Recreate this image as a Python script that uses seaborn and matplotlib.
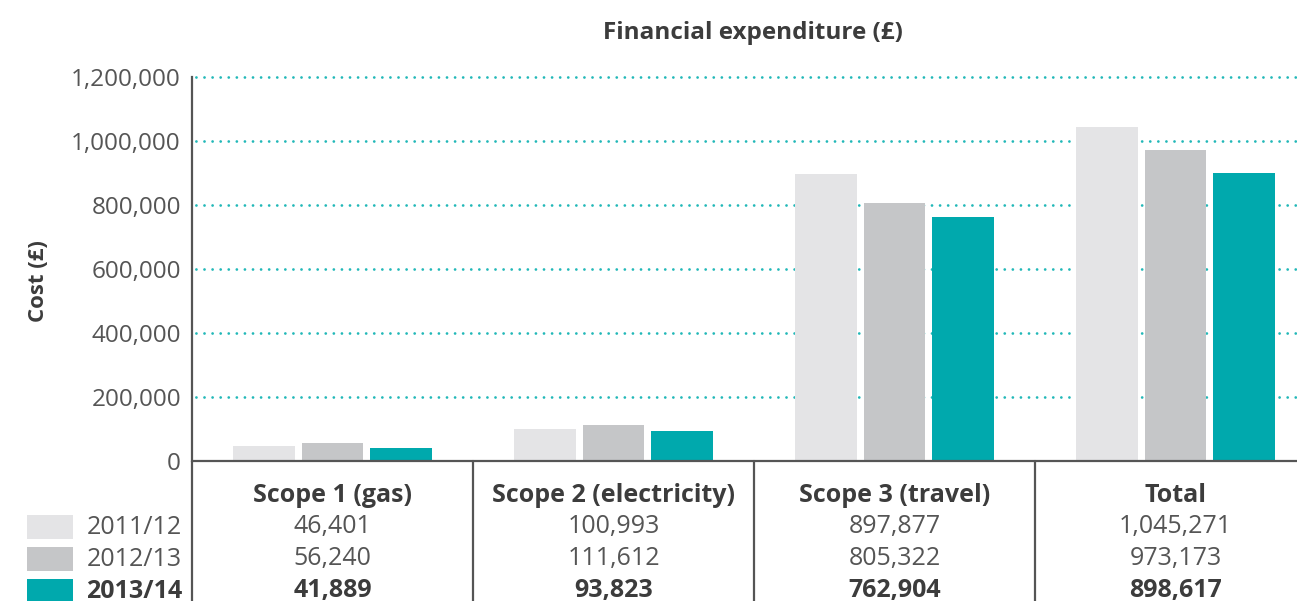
import numpy as np
import pandas as pd
import matplotlib
matplotlib.use('Agg')
import matplotlib.pyplot as plt
import seaborn as sns
from matplotlib.transforms import blended_transform_factory
from matplotlib.lines import Line2D
from matplotlib.patches import Rectangle
from matplotlib.ticker import FuncFormatter

# Data
categories = ['Scope 1 (gas)', 'Scope 2 (electricity)', 'Scope 3 (travel)', 'Total']
years = ['2011/12', '2012/13', '2013/14']
cost_2011 = [46401, 100993, 897877, 1045271]
cost_2012 = [56240, 111612, 805322, 973173]
cost_2013 = [41889, 93823, 762904, 898617]
y_ticks = [0, 200000, 400000, 600000, 800000, 1000000, 1200000]

colors = ['#e4e4e6', '#c5c6c8', '#00a9ad']
grid_color = '#22b8b8'
text_color = '#555555'
dark_text = '#3c3c3c'

df = pd.DataFrame({
    'category': categories * 3,
    'year': np.repeat(years, len(categories)),
    'cost': cost_2011 + cost_2012 + cost_2013,
})

sns.set_theme(style='white')
plt.rcParams['font.family'] = ['Open Sans', 'DejaVu Sans']

W, H = 1297, 601
fig = plt.figure(figsize=(W / 100, H / 100), dpi=100)
ax = fig.add_axes([192 / W, 1 - 461 / H, (W - 192) / W, 384 / H])


def fy(py):
    # pixel row -> figure fraction
    return 1 - py / H


# Bars
sns.barplot(data=df, x='category', y='cost', hue='year', palette=colors,
            width=0.735, gap=0.1, saturation=1, linewidth=0,
            legend=False, ax=ax, zorder=3)

ax.set_xlim(-0.5, 3.5 - 19 / 281)
ax.set_ylim(0, 1200000)

# Dotted gridlines (not at zero)
for t in y_ticks[1:]:
    ax.axhline(t, color=grid_color, linestyle=(1.5, (0.01, 2.9)), linewidth=2.0,
               dash_capstyle='round', clip_on=False, zorder=1)
ax.axhline(0, color='#555555', linewidth=1.6, zorder=4, clip_on=False)

ax.set_yticks(y_ticks)
ax.yaxis.set_major_formatter(FuncFormatter(lambda v, p: f'{int(v):,}'))
ax.tick_params(axis='y', length=0, pad=8, labelsize=17.5, labelcolor=text_color)
ax.set_xticks([])
ax.set_xlabel('')
ax.set_ylabel('')

for s in ['top', 'right', 'bottom']:
    ax.spines[s].set_visible(False)
ax.spines['left'].set_color('#555555')
ax.spines['left'].set_linewidth(1.6)

# Table below the chart
tr = blended_transform_factory(ax.transData, fig.transFigure)
for xs in [-0.5, 0.5, 1.5, 2.5]:
    fig.add_artist(Line2D([xs, xs], [fy(461), 0], transform=tr,
                          color='#555555', linewidth=1.6))

header_y = 496
row_y = [527, 559, 591]
rows = [cost_2011, cost_2012, cost_2013]

for i, cat in enumerate(categories):
    ax.text(i, fy(header_y), cat, transform=tr, ha='center', va='center',
            fontsize=18, fontweight='bold', color=dark_text)
    for r, vals in enumerate(rows):
        bold = r == len(rows) - 1
        ax.text(i, fy(row_y[r]), f'{vals[i]:,}', transform=tr,
                ha='center', va='center', fontsize=18,
                fontweight='bold' if bold else 'normal',
                color=dark_text if bold else text_color)

# Row legend
for r, yr in enumerate(years):
    bold = r == len(years) - 1
    fig.add_artist(Rectangle((27 / W, fy(row_y[r] + 12)), 46 / W, 24 / H,
                             transform=fig.transFigure, facecolor=colors[r],
                             edgecolor='none'))
    fig.text(182 / W, fy(row_y[r]), yr, ha='right', va='center', fontsize=18,
             fontweight='bold' if bold else 'normal',
             color=dark_text if bold else text_color)

# Titles
fig.text(753 / W, fy(33), 'Financial expenditure (£)', ha='center', va='center',
         fontsize=17.5, fontweight='bold', color=dark_text)
fig.text(38 / W, fy(281), 'Cost (£)', ha='center', va='center', rotation=90,
         fontsize=16, fontweight='bold', color=dark_text)

fig.savefig('out.png', dpi=100)
